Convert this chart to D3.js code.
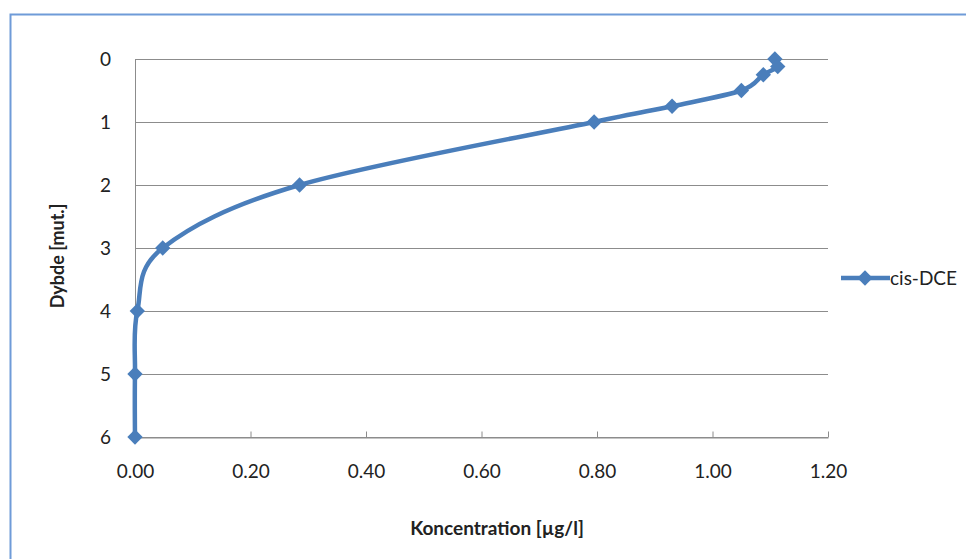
<!DOCTYPE html>
<html><head><meta charset="utf-8">
<script src="https://cdn.jsdelivr.net/npm/d3@7"></script>
<style>body{margin:0;background:#fff}svg{display:block}</style>
</head><body>
<script>
const seriesName = "cis-DCE";
const depths = [0, 0.12, 0.25, 0.5, 0.75, 1, 2, 3, 4, 5, 6];
const concentrations = [1.108, 1.113, 1.088, 1.05, 0.93, 0.795, 0.285, 0.048, 0.004, 0, 0];
const xTicks = [0, 0.2, 0.4, 0.6, 0.8, 1.0, 1.2];
const yTicks = [0, 1, 2, 3, 4, 5, 6];
const xTitle = "Koncentration [µg/l]";
const yTitle = "Dybde [mut.]";

const W = 966, H = 559;
const svg = d3.select("body").append("svg").attr("width", W).attr("height", H);
const font = "Lato, 'Open Sans', sans-serif";

// outer frame
svg.append("rect").attr("x", 10.5).attr("y", 14.5).attr("width", W).attr("height", H)
  .attr("fill", "none").attr("stroke", "#6f9bd8").attr("stroke-width", 2);

const L = 135, R = 828, T = 59, B = 437;
const x = d3.scaleLinear().domain([0, 1.2]).range([L, R]);
const y = d3.scaleLinear().domain([0, 6]).range([T, B]);

// gridlines
svg.append("g").selectAll("line").data(yTicks).join("line")
  .attr("x1", L).attr("x2", R).attr("y1", d => Math.round(y(d)) + 0.5).attr("y2", d => Math.round(y(d)) + 0.5)
  .attr("stroke", "#8c8c8c").attr("stroke-width", 1);

// y axis line
svg.append("line").attr("x1", L + 0.5).attr("x2", L + 0.5).attr("y1", T).attr("y2", B)
  .attr("stroke", "#8c8c8c");

// x axis with ticks pointing up
const xAxis = d3.axisBottom(x).tickValues(xTicks).tickFormat(d3.format(".2f")).tickSizeInner(-6).tickSizeOuter(0).tickPadding(27);
const gx = svg.append("g").attr("transform", `translate(0,${Math.round(B) + 0.5})`).call(xAxis);
gx.select(".domain").attr("stroke", "#8c8c8c");
gx.selectAll(".tick line").attr("stroke", "#8c8c8c");
gx.selectAll("text").attr("font-family", font).attr("font-size", 19).attr("fill", "#222");

// y axis labels
const yAxis = d3.axisLeft(y).tickValues(yTicks).tickFormat(d3.format("d")).tickSize(0).tickPadding(24);
const gy = svg.append("g").attr("transform", `translate(${L},0)`).call(yAxis);
gy.select(".domain").remove();
gy.selectAll("text").attr("font-family", font).attr("font-size", 19).attr("fill", "#222");

// titles
svg.append("text").attr("x", 497).attr("y", 535).attr("text-anchor", "middle")
  .attr("font-family", font).attr("font-weight", "bold").attr("font-size", 19).attr("fill", "#222").text(xTitle);
svg.append("text").attr("transform", "translate(64,256) rotate(-90)").attr("text-anchor", "middle")
  .attr("font-family", font).attr("font-weight", "bold").attr("font-size", 18).attr("fill", "#222").text(yTitle);

const color = "#4a7ebb";
const data = depths.map((d, i) => ({d, c: concentrations[i]}));
const line = d3.line().x(p => x(p.c)).y(p => y(p.d)).curve(d3.curveCatmullRom.alpha(0));
svg.append("path").datum(data).attr("d", line).attr("fill", "none")
  .attr("stroke", color).attr("stroke-width", 4.5).attr("stroke-linejoin", "round").attr("stroke-linecap", "round");

const diamond = d3.symbol().type(d3.symbolDiamond2).size(150);
svg.append("g").selectAll("path").data(data).join("path")
  .attr("transform", p => `translate(${x(p.c)},${y(p.d)})`).attr("d", diamond).attr("fill", color);

// legend
const ly = 278;
svg.append("line").attr("x1", 841).attr("x2", 890).attr("y1", ly).attr("y2", ly)
  .attr("stroke", color).attr("stroke-width", 4.5);
svg.append("path").attr("transform", `translate(865,${ly})`).attr("d", diamond).attr("fill", color);
svg.append("text").attr("x", 890).attr("y", ly + 7).attr("font-family", font).attr("font-size", 19)
  .attr("fill", "#222").text(seriesName);
</script>
</body></html>
